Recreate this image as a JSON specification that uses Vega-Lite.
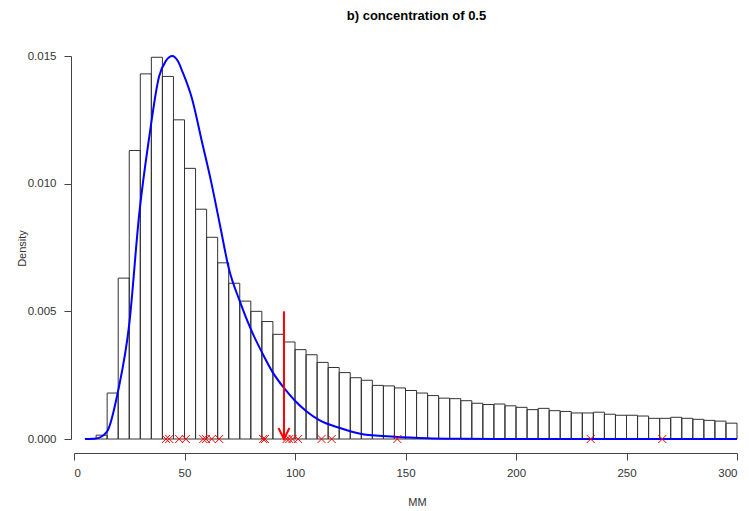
{
  "$schema": "https://vega.github.io/schema/vega-lite/v6.json",
  "width": 663,
  "height": 383,
  "autosize": "none",
  "padding": {"left": 74, "top": 56, "right": 12, "bottom": 72},
  "background": "white",
  "title": {
    "text": "b) concentration of 0.5",
    "anchor": "middle",
    "dx": 11,
    "offset": 17,
    "baseline": "alphabetic",
    "font": "Liberation Sans",
    "fontSize": 13,
    "fontWeight": "bold",
    "color": "#000000"
  },
  "config": {
    "view": {"stroke": null},
    "axis": {
      "grid": false,
      "domainColor": "#444444",
      "tickColor": "#444444",
      "labelColor": "#333333",
      "titleColor": "#333333",
      "labelFont": "Liberation Sans",
      "titleFont": "Liberation Sans",
      "labelFontSize": 11.5,
      "titleFontSize": 11,
      "titleFontWeight": "normal",
      "tickSize": 7,
      "domainWidth": 1,
      "tickWidth": 1
    }
  },
  "datasets": {
    "bars": [
      {"lo": 5, "hi": 10, "density": 0.00002},
      {"lo": 10, "hi": 15, "density": 0.00015},
      {"lo": 15, "hi": 20, "density": 0.0018},
      {"lo": 20, "hi": 25, "density": 0.0063},
      {"lo": 25, "hi": 30, "density": 0.0113},
      {"lo": 30, "hi": 35, "density": 0.0143},
      {"lo": 35, "hi": 40, "density": 0.01495},
      {"lo": 40, "hi": 45, "density": 0.0142},
      {"lo": 45, "hi": 50, "density": 0.0125},
      {"lo": 50, "hi": 55, "density": 0.0106},
      {"lo": 55, "hi": 60, "density": 0.0090},
      {"lo": 60, "hi": 65, "density": 0.0079},
      {"lo": 65, "hi": 70, "density": 0.0069},
      {"lo": 70, "hi": 75, "density": 0.0061},
      {"lo": 75, "hi": 80, "density": 0.0054},
      {"lo": 80, "hi": 85, "density": 0.0050},
      {"lo": 85, "hi": 90, "density": 0.0046},
      {"lo": 90, "hi": 95, "density": 0.0041},
      {"lo": 95, "hi": 100, "density": 0.0038},
      {"lo": 100, "hi": 105, "density": 0.0035},
      {"lo": 105, "hi": 110, "density": 0.0033},
      {"lo": 110, "hi": 115, "density": 0.0030},
      {"lo": 115, "hi": 120, "density": 0.0028},
      {"lo": 120, "hi": 125, "density": 0.0026},
      {"lo": 125, "hi": 130, "density": 0.0024},
      {"lo": 130, "hi": 135, "density": 0.0023},
      {"lo": 135, "hi": 140, "density": 0.0021},
      {"lo": 140, "hi": 145, "density": 0.00208},
      {"lo": 145, "hi": 150, "density": 0.0020},
      {"lo": 150, "hi": 155, "density": 0.0019},
      {"lo": 155, "hi": 160, "density": 0.0018},
      {"lo": 160, "hi": 165, "density": 0.0017},
      {"lo": 165, "hi": 170, "density": 0.0016},
      {"lo": 170, "hi": 175, "density": 0.00158},
      {"lo": 175, "hi": 180, "density": 0.0015},
      {"lo": 180, "hi": 185, "density": 0.0014},
      {"lo": 185, "hi": 190, "density": 0.00135},
      {"lo": 190, "hi": 195, "density": 0.00137},
      {"lo": 195, "hi": 200, "density": 0.0013},
      {"lo": 200, "hi": 205, "density": 0.00124},
      {"lo": 205, "hi": 210, "density": 0.00115},
      {"lo": 210, "hi": 215, "density": 0.0012},
      {"lo": 215, "hi": 220, "density": 0.00111},
      {"lo": 220, "hi": 225, "density": 0.00108},
      {"lo": 225, "hi": 230, "density": 0.00102},
      {"lo": 230, "hi": 235, "density": 0.00102},
      {"lo": 235, "hi": 240, "density": 0.00105},
      {"lo": 240, "hi": 245, "density": 0.00097},
      {"lo": 245, "hi": 250, "density": 0.00093},
      {"lo": 250, "hi": 255, "density": 0.00093},
      {"lo": 255, "hi": 260, "density": 0.0009},
      {"lo": 260, "hi": 265, "density": 0.00081},
      {"lo": 265, "hi": 270, "density": 0.00081},
      {"lo": 270, "hi": 275, "density": 0.00085},
      {"lo": 275, "hi": 280, "density": 0.00081},
      {"lo": 280, "hi": 285, "density": 0.00077},
      {"lo": 285, "hi": 290, "density": 0.00073},
      {"lo": 290, "hi": 295, "density": 0.0007},
      {"lo": 295, "hi": 300, "density": 0.00062}
    ],
    "curve": [
      {"mm": 5, "density": 0},
      {"mm": 10, "density": 0.00002},
      {"mm": 15, "density": 0.0003},
      {"mm": 20, "density": 0.0019},
      {"mm": 25, "density": 0.0045},
      {"mm": 29.5, "density": 0.0088},
      {"mm": 34, "density": 0.0118},
      {"mm": 38.5, "density": 0.0142},
      {"mm": 41.5, "density": 0.0148},
      {"mm": 44.5, "density": 0.0150},
      {"mm": 47, "density": 0.0148},
      {"mm": 49, "density": 0.0144},
      {"mm": 53.5, "density": 0.0133},
      {"mm": 58, "density": 0.0116},
      {"mm": 62, "density": 0.0101},
      {"mm": 66, "density": 0.0084},
      {"mm": 70, "density": 0.0067},
      {"mm": 75, "density": 0.0054},
      {"mm": 80, "density": 0.0043},
      {"mm": 85, "density": 0.0034},
      {"mm": 90, "density": 0.0026},
      {"mm": 95, "density": 0.0020},
      {"mm": 100, "density": 0.0015},
      {"mm": 105, "density": 0.0011},
      {"mm": 111, "density": 0.00074},
      {"mm": 120, "density": 0.00044},
      {"mm": 130, "density": 0.0002},
      {"mm": 145, "density": 0.00009},
      {"mm": 160, "density": 0.00003},
      {"mm": 175, "density": 0.00001},
      {"mm": 200, "density": 0},
      {"mm": 300, "density": 0}
    ],
    "obs": [
      {"mm": 41.6}, {"mm": 43.1}, {"mm": 47.6}, {"mm": 50.6},
      {"mm": 58.5}, {"mm": 59.7}, {"mm": 62.3}, {"mm": 65.7},
      {"mm": 85.6}, {"mm": 86.4}, {"mm": 96.2}, {"mm": 97.4},
      {"mm": 98.9}, {"mm": 101.4}, {"mm": 112.0}, {"mm": 116.6},
      {"mm": 146.3}, {"mm": 233.8}, {"mm": 266.2}
    ],
    "arrow": [{"mm": 95, "top": 0.005, "bottom": 0}]
  },
  "layer": [
    {
      "data": {"name": "bars"},
      "mark": {"type": "rect", "fill": "transparent", "stroke": "#333333", "strokeWidth": 1},
      "encoding": {
        "x": {
          "field": "lo", "type": "quantitative",
          "scale": {"domain": [0, 300], "nice": false, "zero": false},
          "axis": {
            "title": "MM",
            "values": [0, 50, 100, 150, 200, 250, 300],
            "offset": 14,
            "labelPadding": 7,
            "titleX": 343,
            "titleY": 49,
            "titleBaseline": "middle",
            "titleAnchor": "middle"
          }
        },
        "x2": {"field": "hi"},
        "y": {
          "field": "density", "type": "quantitative",
          "scale": {"domain": [0, 0.015], "nice": false},
          "axis": {
            "title": "Density",
            "values": [0, 0.005, 0.01, 0.015],
            "format": ".3f",
            "offset": 3,
            "labelPadding": 8,
            "titleX": -49,
            "titleY": 192,
            "titleBaseline": "middle",
            "titleAngle": 270
          }
        },
        "y2": {"datum": 0}
      }
    },
    {
      "data": {"name": "curve"},
      "mark": {"type": "line", "color": "#0000ff", "strokeWidth": 2, "interpolate": "monotone"},
      "encoding": {
        "x": {"field": "mm", "type": "quantitative"},
        "y": {"field": "density", "type": "quantitative"}
      }
    },
    {
      "data": {"name": "obs"},
      "mark": {"type": "point", "shape": "M-1,-1L1,1M-1,1L1,-1", "size": 64, "filled": false, "stroke": "#ff0000", "strokeWidth": 1, "opacity": 1},
      "encoding": {
        "x": {"field": "mm", "type": "quantitative"},
        "y": {"datum": 0}
      }
    },
    {
      "data": {"name": "arrow"},
      "mark": {"type": "rule", "color": "#ff0000", "strokeWidth": 2},
      "encoding": {
        "x": {"field": "mm", "type": "quantitative"},
        "y": {"field": "top", "type": "quantitative"},
        "y2": {"field": "bottom"}
      }
    },
    {
      "data": {"name": "arrow"},
      "mark": {"type": "point", "shape": "M-0.5,-1L0,0L0.5,-1", "size": 484, "filled": false, "stroke": "#ff0000", "strokeWidth": 2, "opacity": 1},
      "encoding": {
        "x": {"field": "mm", "type": "quantitative"},
        "y": {"field": "bottom", "type": "quantitative"}
      }
    }
  ]
}
